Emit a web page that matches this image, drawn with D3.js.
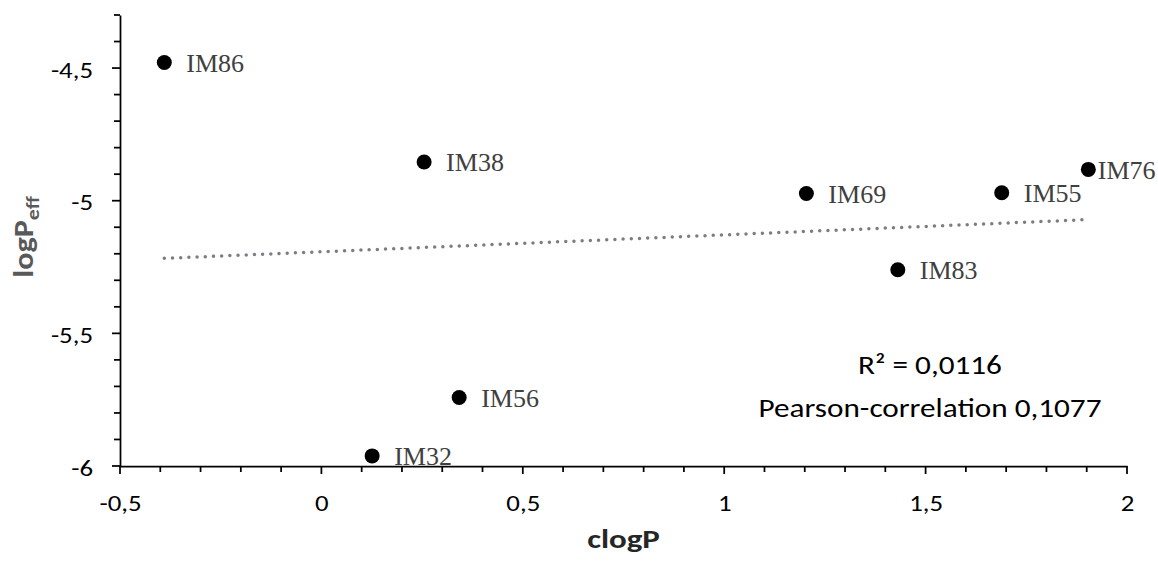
<!DOCTYPE html>
<html>
<head>
<meta charset="utf-8">
<script src="https://cdn.jsdelivr.net/npm/d3@7"></script>
<style>
  body { margin: 0; background: #fff; }
  svg { display: block; }
</style>
</head>
<body>
<div id="chart-container"></div>
<script>
// compound names and measured values
const names = ["IM86", "IM38", "IM32", "IM56", "IM69", "IM83", "IM55", "IM76"];
const clogP = [-0.39, 0.255, 0.126, 0.342, 1.204, 1.431, 1.689, 1.904];
const logPeff = [-4.479, -4.854, -5.962, -5.742, -4.973, -5.26, -4.97, -4.882];

const xTicks = [-0.5, 0, 0.5, 1, 1.5, 2];
const yTicks = [-6, -5.5, -5, -4.5];
const statsLines = ["R\u00b2 = 0,0116", "Pearson-correlation 0,1077"];

const dataset = names.map((n, i) => ({ name: n, x: clogP[i], y: logPeff[i] }));

const fullW = 1158;
const fullH = 563;
const margin = { top: 15, right: 31, bottom: 97, left: 120 };
const width = fullW - margin.left - margin.right;
const height = fullH - margin.top - margin.bottom;

const sansFont = "Carlito, Calibri, Lato, sans-serif";
const serifFont = "'Liberation Serif', 'Times New Roman', serif";
const stretch = 1.22; // sans text in the source is drawn wide
const fmt = (d) => String(d).replace(".", ",");

const x = d3.scaleLinear().domain([-0.5, 2]).range([0, width]);
const y = d3.scaleLinear().domain([-6, -4.3]).range([height, 0]);

const root = d3
  .select("#chart-container")
  .append("svg")
  .attr("width", fullW)
  .attr("height", fullH);

root.append("rect").attr("width", fullW).attr("height", fullH).attr("fill", "#fff");

const svg = root.append("g").attr("transform", `translate(${margin.left}, ${margin.top})`);

//Trendline (least squares through the points)
const mx = d3.mean(dataset, (d) => d.x);
const my = d3.mean(dataset, (d) => d.y);
const slope =
  d3.sum(dataset, (d) => (d.x - mx) * (d.y - my)) / d3.sum(dataset, (d) => (d.x - mx) ** 2);
const [x0, x1] = d3.extent(dataset, (d) => d.x);
const trend = [x0, x1].map((v) => ({ x: v, y: my + slope * (v - mx) }));

svg
  .append("path")
  .datum(trend)
  .attr("fill", "none")
  .attr("stroke", "#7c7c86")
  .attr("stroke-width", 3.5)
  .attr("stroke-linecap", "round")
  .attr("stroke-dasharray", "0 8.2")
  .attr(
    "d",
    d3
      .line()
      .x((d) => x(d.x))
      .y((d) => y(d.y))
  );

//Points
svg
  .selectAll("circle.pt")
  .data(dataset)
  .join("circle")
  .attr("class", "pt")
  .attr("cx", (d) => x(d.x))
  .attr("cy", (d) => y(d.y))
  .attr("r", 7.5)
  .attr("fill", "#000");

//Point labels
const labelGap = { IM76: 9.5 };
svg
  .selectAll("text.lbl")
  .data(dataset)
  .join("text")
  .attr("class", "lbl")
  .attr("x", (d) => x(d.x) + (labelGap[d.name] || 22))
  .attr("y", (d) => y(d.y))
  .attr("dy", "0.35em")
  .style("font-family", serifFont)
  .style("font-size", "26px")
  .style("fill", "#404040")
  .text((d) => d.name);

//x axis
const xMinor = d3.range(-5, 21).map((v) => v / 10);
const xAxis = svg.append("g").attr("transform", `translate(0, ${height})`);
xAxis
  .selectAll("line.minor")
  .data(xMinor)
  .join("line")
  .attr("x1", (d) => x(d))
  .attr("x2", (d) => x(d))
  .attr("y1", 0)
  .attr("y2", (d) => (xTicks.includes(d) ? 8 : 6))
  .attr("stroke", "#000")
  .attr("stroke-width", 1.75);
xAxis
  .call(d3.axisBottom(x).tickValues(xTicks).tickFormat(fmt).tickSize(0))
  .call((g) => g.select(".domain").attr("stroke", "#000").attr("stroke-width", 1.75))
  .selectAll(".tick text")
  .attr("x", 0)
  .attr("y", 0)
  .attr("dy", 0)
  .attr("transform", `translate(0, 45) scale(${stretch}, 1)`)
  .style("font-family", sansFont)
  .style("font-size", "22px")
  .attr("fill", "#000");

//y axis
const yMinor = d3.range(-60, -42).map((v) => v / 10);
const yAxis = svg.append("g");
yAxis
  .selectAll("line.minor")
  .data(yMinor)
  .join("line")
  .attr("y1", (d) => y(d))
  .attr("y2", (d) => y(d))
  .attr("x1", 0)
  .attr("x2", (d) => (yTicks.includes(d) ? -8 : -6))
  .attr("stroke", "#000")
  .attr("stroke-width", 1.75);
yAxis
  .call(d3.axisLeft(y).tickValues(yTicks).tickFormat(fmt).tickSize(0))
  .call((g) => g.select(".domain").attr("stroke", "#000").attr("stroke-width", 1.75))
  .selectAll(".tick text")
  .attr("x", 0)
  .attr("dy", 0)
  .attr("transform", `translate(-27, 9) scale(${stretch}, 1)`)
  .style("font-family", sansFont)
  .style("font-size", "22px")
  .attr("fill", "#000");

//Axis titles
svg
  .append("text")
  .attr("transform", `translate(${width / 2}, ${height + 82}) scale(${stretch}, 1)`)
  .style("text-anchor", "middle")
  .style("font-family", sansFont)
  .style("font-size", "27px")
  .style("font-weight", "bold")
  .style("fill", "#262626")
  .text("clogP");

const yTitle = svg
  .append("text")
  .attr("transform", `translate(${33 - margin.left}, ${237 - margin.top}) rotate(-90) scale(1.15, 1)`)
  .style("text-anchor", "middle")
  .style("font-family", sansFont)
  .style("font-size", "28px")
  .style("font-weight", "bold")
  .style("fill", "#595959");
yTitle.append("tspan").text("logP");
yTitle.append("tspan").attr("dy", "0.3em").style("font-size", "19px").text("eff");

//Correlation note
svg
  .selectAll("text.stat")
  .data(statsLines)
  .join("text")
  .attr("class", "stat")
  .attr(
    "transform",
    (d, i) => `translate(${930 - margin.left}, ${374 - margin.top + i * 43}) scale(1.2, 1)`
  )
  .style("text-anchor", "middle")
  .style("font-family", sansFont)
  .style("font-size", "26px")
  .style("fill", "#000")
  .text((d) => d);
</script>
</body>
</html>
